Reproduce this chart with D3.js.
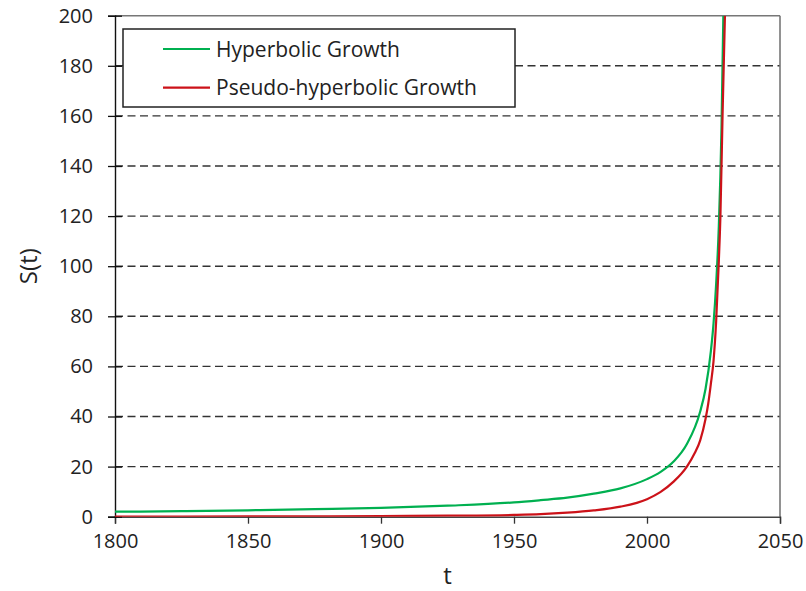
<!DOCTYPE html>
<html>
<head>
<meta charset="utf-8">
<script src="https://cdn.jsdelivr.net/npm/d3@7"></script>
<style>
  body { margin: 0; background: #fff; }
  text { font-family: "Open Sans", sans-serif; fill: #222; }
</style>
</head>
<body>
<div id="chart"></div>
<script>
// values
const hyperT = [1800, 1825, 1850, 1875, 1900, 1925, 1950, 1960, 1970, 1980, 1990, 2000, 2005, 2010, 2015, 2020, 2022, 2024, 2025, 2026, 2027, 2028, 2028.7];
const hyperS = [2.0, 2.2, 2.55, 3.0, 3.55, 4.4, 5.7, 6.6, 7.6, 9.2, 11.3, 15, 17.8, 22, 29, 42, 51, 66, 77, 93, 116, 155, 200];

const pseudoT = [1800, 1850, 1900, 1925, 1950, 1960, 1970, 1980, 1990, 2000, 2005, 2010, 2015, 2018, 2020, 2022, 2023, 2024, 2025, 2026, 2027, 2027.6, 2028.4, 2029.3];
const pseudoS = [0.05, 0.1, 0.25, 0.4, 0.7, 1.0, 1.6, 2.5, 4.0, 7.0, 9.8, 14.0, 20, 25.5, 30.5, 39, 45, 53, 62, 78, 102, 120, 160, 200];

const xTicks = [1800, 1850, 1900, 1950, 2000, 2050];
const yTicks = [0, 20, 40, 60, 80, 100, 120, 140, 160, 180, 200];

const seriesNames = ["Hyperbolic Growth", "Pseudo-hyperbolic Growth"];
const seriesColors = ["#00b050", "#cc1219"];

// canvas
const W = 806, H = 591;
const margin = {top: 15.7, right: 26, bottom: 74.3, left: 115};
const width = W - margin.left - margin.right;
const height = H - margin.top - margin.bottom;

const svg = d3.select("#chart").append("svg")
    .attr("width", W)
    .attr("height", H);

const g = svg.append("g")
    .attr("transform", "translate(" + margin.left + "," + margin.top + ")");

const xScale = d3.scaleLinear().domain([1800, 2050]).range([0, width]);
const yScale = d3.scaleLinear().domain([0, 200]).range([height, 0]);

// dashed grid
g.append("g").selectAll("line")
    .data(yTicks.filter(d => d > 0 && d < 200))
    .enter().append("line")
    .attr("x1", 0).attr("x2", width)
    .attr("y1", d => yScale(d)).attr("y2", d => yScale(d))
    .attr("stroke", "#333")
    .attr("stroke-width", 1.4)
    .attr("stroke-dasharray", "8,4.5");

// frame top / right
g.append("line").attr("x1", 0).attr("x2", width).attr("y1", 0).attr("y2", 0)
    .attr("stroke", "#777").attr("stroke-width", 1.6);
g.append("line").attr("x1", width).attr("x2", width).attr("y1", 0).attr("y2", height)
    .attr("stroke", "#777").attr("stroke-width", 1.6);

// axes
const xAxis = d3.axisBottom(xScale).tickValues(xTicks).tickSize(7).tickPadding(10).tickFormat(d3.format("d"));
const xg = g.append("g").attr("transform", "translate(0," + height + ")").call(xAxis);
xg.select(".domain").attr("stroke", "#444").attr("stroke-width", 1.4);
xg.selectAll(".tick line").attr("stroke", "#333").attr("stroke-width", 1.3);
xg.selectAll(".tick text").style("font-size", "20px").attr("fill", "#222").attr("dy", "0.71em");

const yAxis = d3.axisLeft(yScale).tickValues(yTicks).tickSize(7).tickPadding(15);
const yg = g.append("g").call(yAxis);
yg.select(".domain").attr("stroke", "#111").attr("stroke-width", 1.4);
yg.selectAll(".tick line").attr("x2", 7).attr("x1", -7).attr("stroke", "#111").attr("stroke-width", 1.3);
yg.selectAll(".tick text").style("font-size", "20px").attr("fill", "#222");
xg.selectAll("text").style("font-family", "Open Sans, sans-serif");
yg.selectAll("text").style("font-family", "Open Sans, sans-serif");

// curves
g.append("clipPath").attr("id", "clip").append("rect")
    .attr("x", 0).attr("y", 0).attr("width", width).attr("height", height);

const line = d3.line()
    .x(d => xScale(d[0]))
    .y(d => yScale(d[1]))
    .curve(d3.curveMonotoneX);

const series = [
    d3.zip(hyperT, hyperS),
    d3.zip(pseudoT, pseudoS)
];

g.append("g").attr("clip-path", "url(#clip)")
    .selectAll("path")
    .data(series)
    .enter().append("path")
    .attr("d", line)
    .attr("fill", "none")
    .attr("stroke", (d, i) => seriesColors[i])
    .attr("stroke-width", 2.2);

// legend
const lg = svg.append("g");
lg.append("rect")
    .attr("x", 123).attr("y", 29).attr("width", 392).attr("height", 78)
    .attr("fill", "#fff").attr("stroke", "#222").attr("stroke-width", 1.5);
seriesNames.forEach((name, i) => {
    const yy = 49 + i * 38.7;
    lg.append("line").attr("x1", 163).attr("x2", 210).attr("y1", yy).attr("y2", yy)
        .attr("stroke", seriesColors[i]).attr("stroke-width", 2.2);
    lg.append("text").attr("x", 216).attr("y", yy + 7.5)
        .style("font-size", "21px").text(name);
});

// axis titles
svg.append("text")
    .attr("x", margin.left + xScale(1925)).attr("y", 584)
    .attr("text-anchor", "middle")
    .style("font-size", "24px").text("t");
svg.append("text")
    .attr("transform", "translate(37," + (margin.top + height / 2) + ") rotate(-90)")
    .attr("text-anchor", "middle")
    .style("font-size", "24px").text("S(t)");
</script>
</body>
</html>
